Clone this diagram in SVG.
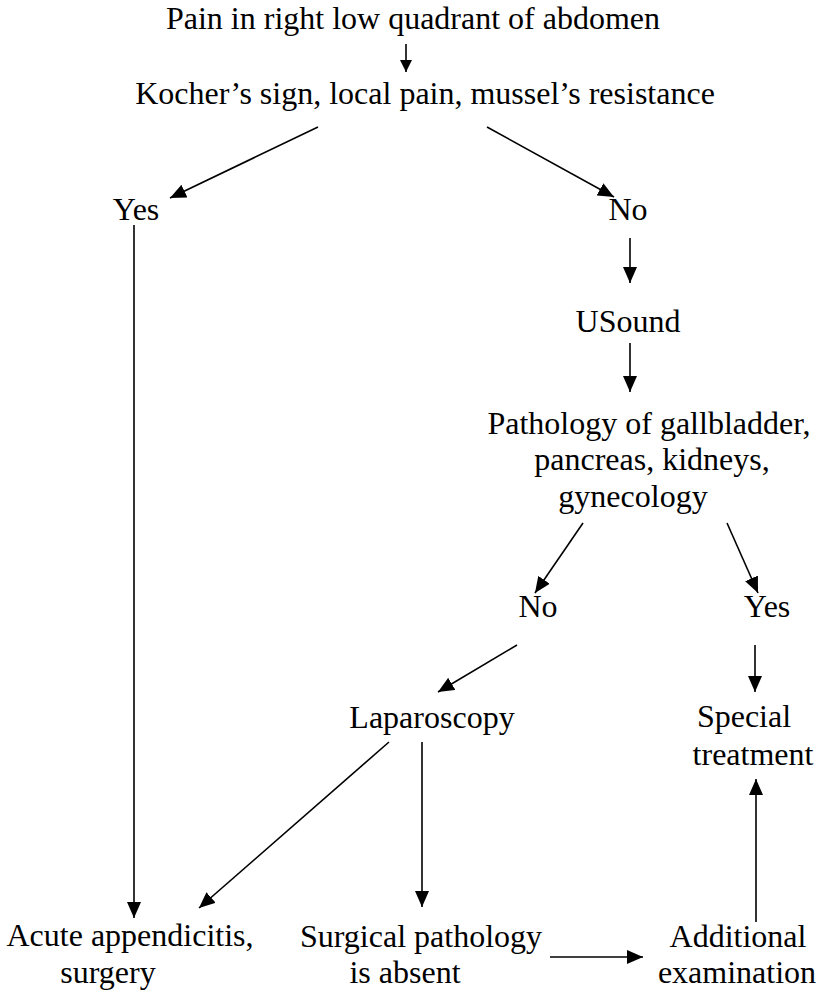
<svg xmlns="http://www.w3.org/2000/svg" width="826" height="994" viewBox="0 0 826 994">
  <style>
    text { font-family: "Liberation Serif", "Times New Roman", serif; font-size: 32px; fill: #000; text-anchor: middle; }
    .edge { stroke: #000; stroke-width: 1.6; fill: none; marker-end: url(#head); }
    .edge-small { stroke: #000; stroke-width: 1.6; fill: none; marker-end: url(#head-small); }
  </style>
  <defs>
    <marker id="head" markerUnits="userSpaceOnUse" markerWidth="16" markerHeight="14" refX="16" refY="7" orient="auto">
      <path d="M0,0 L16,7 L0,14 Z" fill="#000"/>
    </marker>
    <marker id="head-small" markerUnits="userSpaceOnUse" markerWidth="12" markerHeight="12" refX="12" refY="6" orient="auto">
      <path d="M0,0 L12,6 L0,12 Z" fill="#000"/>
    </marker>
  </defs>
  <rect width="826" height="994" fill="#fff"/>

  <g id="pain"><text x="413" y="29">Pain in right low quadrant of abdomen</text></g>
  <g id="signs"><text x="425" y="104">Kocher’s sign, local pain, mussel’s resistance</text></g>
  <g id="yes1"><text x="136" y="220">Yes</text></g>
  <g id="no1"><text x="628" y="220">No</text></g>
  <g id="usound"><text x="628" y="332">USound</text></g>
  <g id="pathology">
    <text x="649" y="434">Pathology of gallbladder,</text>
    <text x="652" y="470">pancreas, kidneys,</text>
    <text x="633" y="507">gynecology</text>
  </g>
  <g id="no2"><text x="538" y="617">No</text></g>
  <g id="yes2"><text x="767" y="617">Yes</text></g>
  <g id="laparoscopy"><text x="432" y="728">Laparoscopy</text></g>
  <g id="special">
    <text x="744" y="727">Special</text>
    <text x="753" y="765">treatment</text>
  </g>
  <g id="appendicitis">
    <text x="130" y="946">Acute appendicitis,</text>
    <text x="108" y="983">surgery</text>
  </g>
  <g id="absent">
    <text x="421" y="947">Surgical pathology</text>
    <text x="405" y="983">is absent</text>
  </g>
  <g id="additional">
    <text x="738" y="947">Additional</text>
    <text x="737" y="983">examination</text>
  </g>

  <g id="connectors">
    <line class="edge-small" x1="406" y1="44" x2="406" y2="72"/>
    <line class="edge" x1="318" y1="127" x2="170" y2="198"/>
    <line class="edge" x1="487" y1="127" x2="614" y2="197"/>
    <line class="edge" x1="134" y1="225" x2="134" y2="918"/>
    <line class="edge" x1="630" y1="238" x2="630" y2="283"/>
    <line class="edge" x1="630" y1="343" x2="630" y2="392"/>
    <line class="edge" x1="583" y1="523" x2="535" y2="593"/>
    <line class="edge" x1="727" y1="523" x2="758" y2="593"/>
    <line class="edge" x1="517" y1="645" x2="438" y2="692"/>
    <line class="edge" x1="755" y1="645" x2="755" y2="692"/>
    <line class="edge" x1="389" y1="742" x2="199" y2="908"/>
    <line class="edge" x1="422" y1="742" x2="422" y2="907"/>
    <line class="edge" x1="756" y1="922" x2="756" y2="779"/>
    <line class="edge" x1="550" y1="957" x2="643" y2="957"/>
  </g>
</svg>
